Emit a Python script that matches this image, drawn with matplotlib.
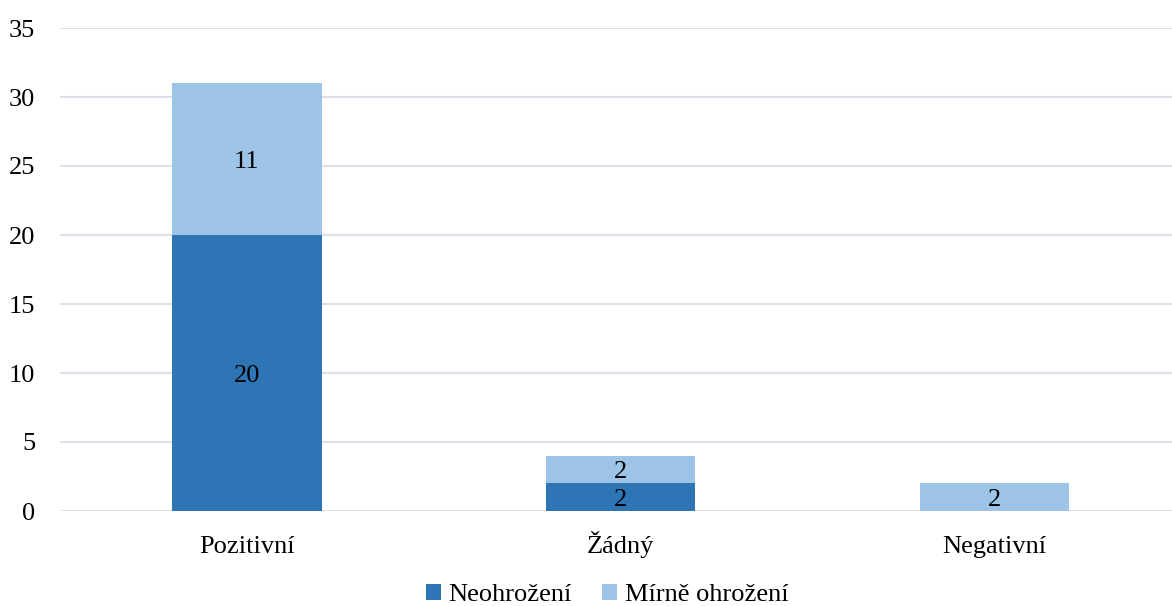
import matplotlib
matplotlib.use("Agg")
import matplotlib.pyplot as plt
import numpy as np

categories = ["Pozitivní", "Žádný", "Negativní"]
neohrozeni = [20, 2, 0]
mirne = [11, 2, 2]
series_names = ["Neohrožení", "Mírně ohrožení"]
yticks = [0, 5, 10, 15, 20, 25, 30, 35]

plt.rcParams['font.family'] = ['Liberation Serif', 'DejaVu Serif']

fig = plt.figure(figsize=(11.72, 6.06), dpi=100)
ax = fig.add_axes([60/1172, 1-511/606, (1172-60)/1172, (511-28)/606])

x = np.arange(len(categories))
w = 0.4
c1 = "#2E75B6"
c2 = "#9DC3E6"
fs = 19
b1 = ax.bar(x, neohrozeni, w, color=c1, label=series_names[0], zorder=3)
b2 = ax.bar(x, mirne, w, bottom=neohrozeni, color=c2, label=series_names[1], zorder=3)

for i in range(len(categories)):
    if neohrozeni[i] > 0:
        ax.text(x[i], neohrozeni[i]/2, str(neohrozeni[i]), ha='center', va='center_baseline', fontsize=fs, color='black', zorder=4)
    if mirne[i] > 0:
        ax.text(x[i], neohrozeni[i] + mirne[i]/2, str(mirne[i]), ha='center', va='center_baseline', fontsize=fs, color='black', zorder=4)

ax.set_ylim(0, 35)
ax.set_xlim(-0.5, 2.475)
ax.set_yticks(yticks)
ax.set_xticks(x)
ax.set_xticklabels(categories)
ax.tick_params(axis='both', length=0, labelsize=fs)
ax.tick_params(axis='y', pad=18)
ax.tick_params(axis='x', pad=30)
for lab in ax.get_xticklabels():
    lab.set_va('baseline')
ax.grid(axis='y', color='#DDE0E8', linewidth=1.5, zorder=0)
for s in ax.spines.values():
    s.set_visible(False)

fig.legend(handles=[b1, b2], labels=series_names, loc='center', bbox_to_anchor=(0.518, 1-595/606),
           ncol=2, frameon=False, fontsize=fs, handlelength=0.55, handleheight=0.55,
           handletextpad=0.3, columnspacing=1.15)

fig.savefig("out.png", dpi=100)
